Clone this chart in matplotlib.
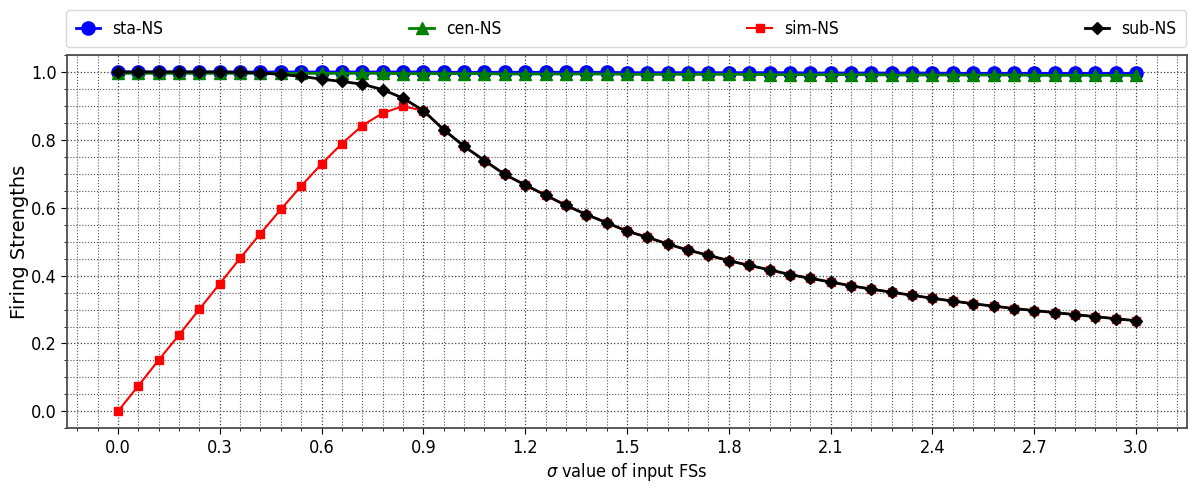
import numpy as np
import matplotlib
matplotlib.use("Agg")
import matplotlib.pyplot as plt
from matplotlib.ticker import MultipleLocator

plt.rcParams["font.family"] = ["DejaVu Sans"]
plt.rcParams["font.stretch"] = "condensed"

# sigma of the input fuzzy sets
sigma = [round(0.06 * i, 2) for i in range(51)]

sta_ns = [1.000, 1.000, 1.000, 1.000, 1.000, 1.000, 1.000, 1.000, 1.000, 1.000,
          1.000, 1.000, 1.000, 1.000, 1.000, 1.000, 0.999, 0.999, 0.999, 0.999,
          0.999, 0.999, 0.999, 0.999, 0.999, 0.998, 0.998, 0.998, 0.998, 0.998,
          0.998, 0.998, 0.998, 0.998, 0.997, 0.997, 0.997, 0.997, 0.997, 0.997,
          0.997, 0.996, 0.996, 0.996, 0.996, 0.996, 0.996, 0.996, 0.996, 0.996,
          0.996]

cen_ns = [0.996, 0.996, 0.996, 0.996, 0.996, 0.996, 0.996, 0.996, 0.996, 0.996,
          0.996, 0.996, 0.996, 0.996, 0.995, 0.995, 0.995, 0.995, 0.995, 0.994,
          0.994, 0.994, 0.994, 0.994, 0.994, 0.993, 0.993, 0.993, 0.993, 0.993,
          0.993, 0.993, 0.992, 0.992, 0.992, 0.992, 0.992, 0.992, 0.991, 0.991,
          0.991, 0.991, 0.991, 0.991, 0.991, 0.990, 0.990, 0.990, 0.990, 0.990,
          0.990]

sim_ns = [0.000, 0.075, 0.151, 0.225, 0.301, 0.376, 0.451, 0.524, 0.595, 0.664,
          0.729, 0.789, 0.842, 0.879, 0.899, 0.886, 0.830, 0.781, 0.739, 0.698,
          0.667, 0.637, 0.607, 0.580, 0.556, 0.531, 0.513, 0.493, 0.475, 0.460,
          0.444, 0.430, 0.417, 0.403, 0.392, 0.381, 0.370, 0.360, 0.351, 0.342,
          0.333, 0.325, 0.317, 0.310, 0.303, 0.297, 0.291, 0.285, 0.279, 0.273,
          0.267]

sub_ns = [1.000, 1.000, 1.000, 1.000, 1.000, 1.000, 0.999, 0.997, 0.993, 0.987,
          0.979, 0.972, 0.964, 0.948, 0.923, 0.886, 0.830, 0.781, 0.739, 0.698,
          0.667, 0.637, 0.607, 0.580, 0.556, 0.531, 0.513, 0.493, 0.475, 0.460,
          0.444, 0.430, 0.417, 0.403, 0.392, 0.381, 0.370, 0.360, 0.351, 0.342,
          0.333, 0.325, 0.317, 0.310, 0.303, 0.297, 0.291, 0.285, 0.279, 0.273,
          0.267]

labels = ["sta-NS", "cen-NS", "sim-NS", "sub-NS"]

fig = plt.figure(figsize=(11.88, 4.86), dpi=100)
ax = fig.add_axes([0.0564, 0.1187, 0.9428, 0.7681])

ax.plot(sigma, sta_ns, color="blue", marker="o", markersize=9.5, lw=2, label=labels[0])
ax.plot(sigma, cen_ns, color="green", marker="^", markersize=8.5, lw=2, label=labels[1])
ax.plot(sigma, sim_ns, color="red", marker="s", markersize=6, lw=1.5, label=labels[2])
ax.plot(sigma, sub_ns, color="black", marker="D", markersize=6.5, lw=2, label=labels[3])

ax.set_xlim(-0.15, 3.15)
ax.set_ylim(-0.05, 1.05)
ax.xaxis.set_major_locator(MultipleLocator(0.3))
ax.xaxis.set_minor_locator(MultipleLocator(0.06))
ax.yaxis.set_major_locator(MultipleLocator(0.2))
ax.yaxis.set_minor_locator(MultipleLocator(0.05))
ax.grid(which="major", linestyle=":", color="0.25", lw=0.9)
ax.grid(which="minor", linestyle=":", color="0.35", lw=0.8)
ax.tick_params(which="major", labelsize=13, length=4)
ax.tick_params(which="minor", length=2.5)

for s in ax.spines.values():
    s.set_color("0.3")
    s.set_linewidth(1.3)

ax.set_xlabel(r"$\sigma$ value of input FSs", fontsize=13, labelpad=3)
ax.set_ylabel("Firing Strengths", fontsize=14, fontstretch="normal")
ax.yaxis.set_label_coords(-0.034, 0.5)

fig.legend(loc="lower left", bbox_to_anchor=(0.0556, 0.903, 0.9428, 0.07),
           ncol=4, mode="expand", borderaxespad=0, fontsize=12.5, fancybox=True,
           framealpha=1.0, edgecolor="0.85", handlelength=1.4, handletextpad=0.7,
           borderpad=0.55)

fig.savefig("out.png", dpi=100)
